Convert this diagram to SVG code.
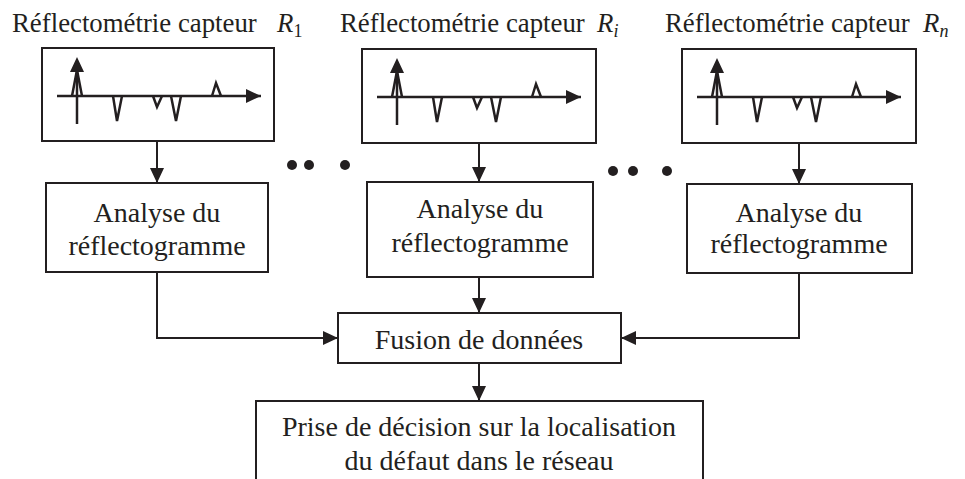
<svg xmlns="http://www.w3.org/2000/svg" width="965" height="479" viewBox="0 0 965 479">
<style>
.box{fill:#fff;stroke:#231f20;stroke-width:2}
.wave{fill:none;stroke:#231f20;stroke-width:2.5;stroke-linejoin:miter}
.ink{fill:#231f20}
.t{font-family:"Liberation Serif","Times New Roman",serif;font-size:28px;fill:#231f20;text-anchor:middle}
.title{font-family:"Liberation Serif","Times New Roman",serif;font-size:26.8px;fill:#231f20}
.m{font-style:italic}
.sub{font-size:18px}
.conn{fill:none;stroke:#231f20;stroke-width:2}
</style>
<defs>
<marker id="ah" viewBox="0 0 15 14" refX="15" refY="7" markerWidth="15" markerHeight="14" markerUnits="userSpaceOnUse" orient="auto">
<path d="M0,0 L15,7 L0,14 Z" fill="#231f20"/>
</marker>
<g id="wf">
<polyline class="wave" points="15,48 219,48"/>
<polygon class="ink" points="219,48 204,41 204,55"/>
<line class="wave" x1="35" y1="76" x2="35" y2="22"/>
<polygon class="ink" points="35,9 28,24 42,24"/>
<polyline class="wave" points="30,48 35,22 40,48"/>
<polyline class="wave" points="71,48 75,73 80,48"/>
<polyline class="wave" points="111,48 115,59 120,48"/>
<polyline class="wave" points="129,48 134,73 139,48"/>
<polyline class="wave" points="170,48 174,35 179,48"/>
</g>
</defs>

<g id="title1"><text class="title" x="12" y="32">Réflectométrie capteur <tspan class="m" x="277">R</tspan><tspan class="sub" dy="5">1</tspan></text></g>
<g id="title2"><text class="title" x="340" y="32">Réflectométrie capteur <tspan class="m" x="597">R</tspan><tspan class="sub m" dy="5">i</tspan></text></g>
<g id="title3"><text class="title" x="665" y="32">Réflectométrie capteur <tspan class="m" x="923">R</tspan><tspan class="sub m" dy="5">n</tspan></text></g>

<g id="sensor1"><rect class="box" x="42" y="48" width="232" height="93"/><use href="#wf" x="42" y="48"/></g>
<g id="sensor2"><rect class="box" x="362" y="49" width="234" height="94"/><use href="#wf" x="362" y="49"/></g>
<g id="sensor3"><rect class="box" x="682" y="49" width="234" height="94"/><use href="#wf" x="682" y="49"/></g>

<g id="dots">
<circle class="ink" cx="292" cy="165" r="5"/>
<circle class="ink" cx="309" cy="165" r="5"/>
<circle class="ink" cx="345" cy="165" r="5"/>
<circle class="ink" cx="613" cy="171" r="5"/>
<circle class="ink" cx="633" cy="171" r="5"/>
<circle class="ink" cx="667" cy="171" r="5"/>
</g>

<g id="analyse1"><rect class="box" x="46" y="183" width="222" height="89"/><text class="t" x="157" y="222">Analyse du</text><text class="t" x="157" y="255">réflectogramme</text></g>
<g id="analyse2"><rect class="box" x="367" y="182" width="226" height="95"/><text class="t" x="480" y="218">Analyse du</text><text class="t" x="480" y="252">réflectogramme</text></g>
<g id="analyse3"><rect class="box" x="687" y="184" width="225" height="89"/><text class="t" x="799" y="222">Analyse du</text><text class="t" x="799" y="253">réflectogramme</text></g>

<g id="fusion"><rect class="box" x="338" y="313" width="283" height="50"/><text class="t" x="479" y="349">Fusion de données</text></g>

<g id="decision"><rect class="box" x="256" y="401" width="447" height="90"/><text class="t" x="479" y="436">Prise de décision sur la localisation</text><text class="t" x="479" y="470">du défaut dans le réseau</text></g>

<g id="connectors">
<line class="conn" x1="157" y1="141" x2="157" y2="183" marker-end="url(#ah)"/>
<line class="conn" x1="479" y1="143" x2="479" y2="182" marker-end="url(#ah)"/>
<line class="conn" x1="799" y1="143" x2="799" y2="184" marker-end="url(#ah)"/>
<polyline class="conn" points="157,272 157,338 338,338" marker-end="url(#ah)"/>
<polyline class="conn" points="799,273 799,338 621,338" marker-end="url(#ah)"/>
<line class="conn" x1="479" y1="277" x2="479" y2="313" marker-end="url(#ah)"/>
<line class="conn" x1="479" y1="363" x2="479" y2="401" marker-end="url(#ah)"/>
</g>
</svg>
